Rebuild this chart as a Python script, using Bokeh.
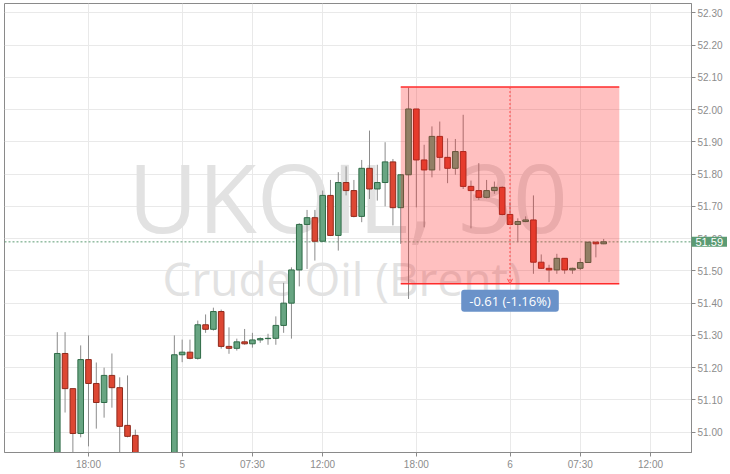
import numpy as np
import pandas as pd
from bokeh.plotting import figure
from bokeh.models import (ColumnDataSource, Range1d, FixedTicker, SingleIntervalTicker,
                          NumeralTickFormatter, Label, Span, Arrow, OpenHead)
from bokeh.core.properties import value
from bokeh.embed import file_html
from bokeh.resources import INLINE

# data: UKOIL 30 min bars, trading sessions (day, first bar, last slot)
sessions = [(4, "16:00", "23:30"), (5, "03:00", "23:30"), (6, "03:00", "12:00")]

nan = float("nan")
open_ = [50.88, 51.244, 51.135, 50.996, 51.225, 51.151, 51.092, 51.176, 51.138, 51.021,
         50.99, nan, nan, nan, nan, 50.90, 51.24, 51.248, 51.229, 51.333,
         51.319, 51.374, 51.266, 51.260, 51.280, 51.274, 51.286, 51.290, 51.291, 51.331,
         51.400, 51.503, 51.644, 51.665, 51.592, 51.734, 51.610, 51.774, 51.749, 51.669,
         51.818, 51.754, 51.774, 51.838, 51.696, 51.798, 52.002, 51.844, 51.813, 51.917,
         51.852, 51.818, 51.870, 51.762, 51.749, 51.728, 51.749, 51.759, 51.675, 51.644,
         51.653, 51.658, 51.527, 51.508, 51.503, 51.539, 51.503, 51.508, 51.526, 51.589,
         51.584]
high = [51.31, 51.31, 51.135, 51.269, 51.30, 51.216, 51.20, 51.244, 51.17, 51.176,
        51.008, nan, nan, nan, nan, 51.30, 51.287, 51.287, 51.346, 51.365,
        51.386, 51.38, 51.325, 51.290, 51.320, 51.308, 51.294, 51.305, 51.359, 51.463,
        51.511, 51.648, 51.689, 51.689, 51.749, 51.782, 51.806, 51.824, 51.782, 51.844,
        51.935, 51.829, 51.899, 51.847, 51.800, 52.068, 52.002, 51.891, 51.948, 51.963,
        51.911, 51.909, 51.984, 51.780, 51.834, 51.782, 51.777, 51.762, 51.713, 51.663,
        51.669, 51.734, 51.551, 51.519, 51.553, 51.539, 51.510, 51.539, 51.590, 51.590,
        51.599]
low = [50.85, 51.061, 50.92, 50.984, 50.956, 51.011, 51.045, 51.076, 50.92, 50.984,
       50.88, nan, nan, nan, nan, 50.88, 51.217, 51.226, 51.225, 51.308,
       51.315, 51.259, 51.243, 51.253, 51.271, 51.262, 51.277, 51.271, 51.271, 51.308,
       51.290, 51.452, 51.506, 51.532, 51.590, 51.608, 51.563, 51.734, 51.666, 51.651,
       51.723, 51.718, 51.700, 51.641, 51.584, 51.413, 51.697, 51.635, 51.790, 51.811,
       51.772, 51.798, 51.754, 51.632, 51.720, 51.725, 51.739, 51.672, 51.642, 51.589,
       51.651, 51.491, 51.506, 51.465, 51.491, 51.491, 51.491, 51.502, 51.525, 51.542,
       51.583]
close = [51.244, 51.135, 50.996, 51.225, 51.151, 51.092, 51.176, 51.138, 51.018, 50.987,
         50.90, nan, nan, nan, nan, 51.24, 51.248, 51.229, 51.333, 51.319,
         51.374, 51.266, 51.260, 51.280, 51.274, 51.286, 51.290, 51.291, 51.331, 51.400,
         51.503, 51.644, 51.665, 51.592, 51.734, 51.610, 51.774, 51.749, 51.669, 51.818,
         51.754, 51.774, 51.838, 51.696, 51.798, 52.002, 51.844, 51.813, 51.917, 51.852,
         51.818, 51.870, 51.762, 51.749, 51.728, 51.749, 51.759, 51.675, 51.644, 51.653,
         51.658, 51.527, 51.508, 51.503, 51.539, 51.503, 51.508, 51.526, 51.589, 51.584,
         51.590]

tick_slots = [(4, "18:00"), (5, "03:00"), (5, "07:30"), (5, "12:00"),
              (5, "18:00"), (6, "03:00"), (6, "07:30"), (6, "12:00")]
tick_labels = ["18:00", "5", "07:30", "12:00", "18:00", "6", "07:30", "12:00"]

last_price = 51.59
measure_start = (5, "17:00")
measure_end = (6, "10:00")
measure_top = 52.07
measure_bottom = 51.46
measure_text = "-0.61 (-1.16%)"

# half hour slots, gaps between sessions are skipped
slots = []
for day, start, end in sessions:
    for t in pd.date_range("2000-01-01 " + start, "2000-01-01 " + end, freq="30min"):
        slots.append((day, t.strftime("%H:%M")))

o = np.array(open_)
c = np.array(close)
up = c >= o
source = ColumnDataSource(dict(
    x=np.arange(len(o)),
    high=high, low=low,
    top=np.maximum(o, c), bottom=np.minimum(o, c),
    fill=np.where(up, "#68a582", "#dd4733"),
    line=np.where(up, "#2f6b47", "#8f2a1c"),
))

x_end = 81.25
p = figure(frame_width=687, frame_height=449,
           x_range=Range1d(-6.76, x_end), y_range=Range1d(50.937, 52.329),
           y_axis_location="right", output_backend="svg", toolbar_location=None,
           min_border_left=4, min_border_top=3, min_border_right=36, min_border_bottom=18)
p.background_fill_color = "white"
p.border_fill_color = "white"
p.outline_line_color = "#8a8a8a"

# axes
p.xaxis.ticker = FixedTicker(ticks=[slots.index(s) for s in tick_slots])
p.xaxis.major_label_overrides = {slots.index(s): t for s, t in zip(tick_slots, tick_labels)}
p.yaxis.ticker = SingleIntervalTicker(interval=0.1, num_minor_ticks=0)
p.yaxis.formatter = NumeralTickFormatter(format="0.00")
p.axis.axis_line_color = "#8a8a8a"
p.axis.major_tick_line_color = "#8a8a8a"
p.axis.major_tick_out = 4
p.axis.major_tick_in = 0
p.axis.minor_tick_line_color = None
p.axis.major_label_standoff = 2
p.axis.major_label_text_color = "#8c8c8c"
p.axis.major_label_text_font = "Liberation Sans"
p.axis.major_label_text_font_size = "10px"
p.grid.grid_line_color = "#e9e9e9"

# watermark
for txt, xx, yy, size in [("UKOIL, 30", 37.24, 51.735, "96px"),
                          ("Crude Oil (Brent)", 36.47, 51.477, "46px")]:
    p.add_layout(Label(x=xx, y=yy, text=txt, text_align="center", text_baseline="alphabetic",
                       text_font="Open Sans", text_font_size=size, text_color="#e2e2e2",
                       level="underlay"))

p.add_layout(Span(location=last_price, dimension="width", line_color="#5b9b73",
                  line_dash="2 2", line_width=1, level="underlay"))

# candles
p.segment(x0="x", y0="high", x1="x", y1="low", source=source, line_color="#8c8c8c", line_width=1)
p.vbar(x="x", width=0.72, top="top", bottom="bottom", source=source,
       fill_color="fill", line_color="line", line_width=1)

# measure tool
m0 = slots.index(measure_start)
m1 = slots.index(measure_end)
mid = (m0 + m1) / 2
p.quad(left=[m0], right=[m1], top=[measure_top], bottom=[measure_bottom],
       fill_color="#ff1e1e", fill_alpha=0.28, line_color=None)
p.segment(x0=[m0, m0], y0=[measure_top, measure_bottom], x1=[m1, m1],
          y1=[measure_top, measure_bottom], line_color="#ff2b2b", line_width=1.5)
p.add_layout(Arrow(x_start=mid, y_start=measure_top, x_end=mid, y_end=measure_bottom,
                   line_color="#ff4a4a", line_dash="2 2", line_width=1,
                   end=OpenHead(size=5, line_color="#ff4a4a", line_width=1)))
p.add_layout(Label(x=mid, y=measure_bottom, y_offset=-17, text=measure_text,
                   text_align="center", text_baseline="middle", text_color="white",
                   text_font="Open Sans", text_font_size="13px",
                   background_fill_color="#6a92c9",
                   padding=dict(left=8, right=8, top=2, bottom=2), border_radius=3))

# last price tag on the price axis; overlay level so it is not cut at the frame edge
p.text(x=[x_end], y=[last_price], text=["%.2f" % last_price], level="overlay",
       text_align="left", text_baseline="middle", text_color="white",
       text_font=value("Liberation Sans"), text_font_size="11px",
       background_fill_color="#5b9b73", padding=dict(left=4, right=4, top=1, bottom=1))

open("out.html", "w").write(file_html(p, INLINE))
